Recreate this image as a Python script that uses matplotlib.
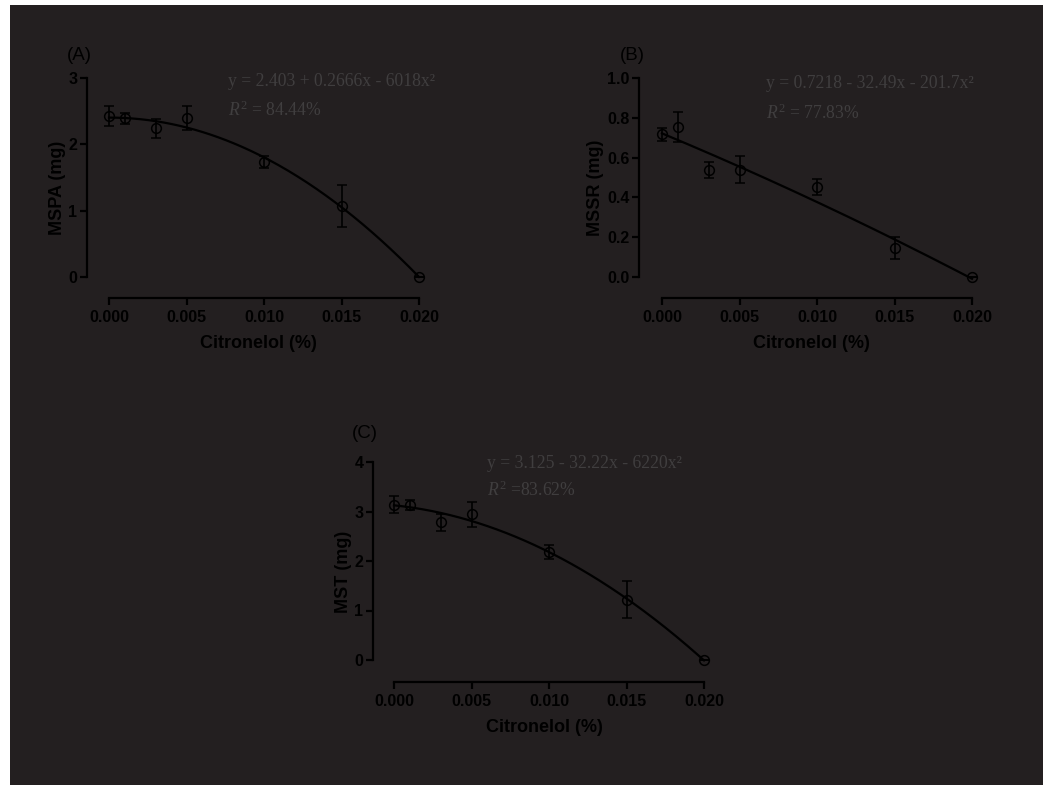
import numpy as np
import matplotlib
matplotlib.use("Agg")
import matplotlib.pyplot as plt
from matplotlib.patches import Rectangle

plt.rcParams["mathtext.fontset"] = "custom"
plt.rcParams["mathtext.rm"] = "Liberation Serif"
plt.rcParams["mathtext.it"] = "Liberation Serif:italic"

# Citronelol concentrations (%)
conc = [0.0, 0.001, 0.003, 0.005, 0.010, 0.015, 0.020]

# (A) MSPA
mspa = [2.43, 2.39, 2.24, 2.40, 1.74, 1.07, 0.0]
mspa_err = [0.15, 0.08, 0.14, 0.18, 0.09, 0.31, 0.0]
mspa_fit = [2.403, 0.2666, -6018]

# (B) MSSR
mssr = [0.717, 0.752, 0.539, 0.538, 0.452, 0.144, 0.0]
mssr_err = [0.033, 0.076, 0.040, 0.068, 0.042, 0.055, 0.0]
mssr_fit = [0.7218, -32.49, -201.7]

# (C) MST
mst = [3.14, 3.14, 2.78, 2.94, 2.19, 1.22, 0.0]
mst_err = [0.18, 0.10, 0.17, 0.25, 0.14, 0.37, 0.0]
mst_fit = [3.125, -32.22, -6220]

xticks = [0.0, 0.005, 0.010, 0.015, 0.020]
xticklabels = ["0.000", "0.005", "0.010", "0.015", "0.020"]

BG = "#231f20"
INK = "#000000"
EQ_INK = "#403e3f"
W, H = 1043, 785

fig = plt.figure(figsize=(W / 100, H / 100), dpi=100, facecolor=BG)
fig.patches.append(Rectangle((0, 0), 10 / W, 1, transform=fig.transFigure,
                             facecolor="white", edgecolor="none", zorder=-1))
fig.patches.append(Rectangle((0, 1 - 5 / H), 1, 5 / H, transform=fig.transFigure,
                             facecolor="white", edgecolor="none", zorder=-1))


def panel(left, top, right, bottom, x0px, x1px, y0px, ytop,
          y, err, fit, yticks, yfmt, ylabel, tag, eq, r2, eqpos):
    ax = fig.add_axes([left / W, 1 - bottom / H, (right - left) / W, (bottom - top) / H])
    ax.set_facecolor("none")
    # data range 0..0.02 sits inside the axes box so the spines look detached
    span = x1px - x0px
    ax.set_xlim(-(x0px - left) / span * 0.02, 0.02 + (right - x1px) / span * 0.02)
    ax.set_ylim(-(bottom - y0px) / (y0px - top) * ytop, ytop)

    xs = np.linspace(0, 0.02, 200)
    ax.plot(xs, fit[0] + fit[1] * xs + fit[2] * xs ** 2, color=INK, lw=1.6)
    ax.errorbar(conc, y, yerr=err, fmt="o", mfc="none", mec=INK, mew=1.1, ms=7,
                ecolor=INK, elinewidth=1.2, capsize=3.5, capthick=1.2)

    for s in ["top", "right"]:
        ax.spines[s].set_visible(False)
    for s in ["left", "bottom"]:
        ax.spines[s].set_color(INK)
        ax.spines[s].set_linewidth(1.6)
    ax.spines["left"].set_bounds(0, ytop)
    ax.spines["bottom"].set_bounds(0, 0.02)

    ax.set_xticks(xticks)
    ax.set_xticklabels(xticklabels)
    ax.set_yticks(yticks)
    ax.set_yticklabels([yfmt.format(v) for v in yticks])
    ax.tick_params(axis="both", colors=INK, width=1.6, length=5, labelsize=11.5)
    ax.tick_params(axis="y", pad=2)
    ax.tick_params(axis="x", pad=4)
    for lab in ax.get_xticklabels() + ax.get_yticklabels():
        lab.set_fontweight("bold")
        lab.set_family("Liberation Sans")

    ax.set_xlabel("Citronelol (%)", fontsize=13, fontweight="bold",
                  family="Liberation Sans", color=INK, labelpad=7)
    ax.set_ylabel(ylabel, fontsize=13, fontweight="bold",
                  family="Liberation Sans", color=INK, labelpad=2)

    fig.text(tag[0] / W, 1 - tag[1] / H, tag[2], fontsize=13.5, color=INK,
             family="Liberation Sans", va="center", ha="left")
    fig.text(eqpos[0] / W, 1 - eqpos[1] / H, eq, fontsize=12.7, color=EQ_INK,
             family="Liberation Serif", va="center", ha="left")
    fig.text(eqpos[0] / W, 1 - eqpos[2] / H, r2, fontsize=12.7, color=EQ_INK,
             family="Liberation Serif", va="center", ha="left")
    return ax


panel(87, 78, 430, 298, 109, 419, 277, 3, mspa, mspa_err, mspa_fit,
      [0, 1, 2, 3], "{:.0f}", "MSPA (mg)", (67, 55, "(A)"),
      "y = 2.403 + 0.2666x - 6018x\u00b2", r"$R^{2}$ = 84.44%",
      (228, 82, 110))

panel(639, 78, 983, 298, 662, 972, 277, 1.0, mssr, mssr_err, mssr_fit,
      [0, 0.2, 0.4, 0.6, 0.8, 1.0], "{:.1f}", "MSSR (mg)", (620, 55, "(B)"),
      "y = 0.7218 - 32.49x - 201.7x\u00b2", r"$R^{2}$ = 77.83%",
      (766, 84, 113))

panel(373, 462, 715, 682, 394, 704, 660, 4, mst, mst_err, mst_fit,
      [0, 1, 2, 3, 4], "{:.0f}", "MST (mg)", (352, 433, "(C)"),
      "y = 3.125 - 32.22x - 6220x\u00b2", r"$R^{2}$ =83.62%",
      (487, 463, 490))

fig.savefig("out.png", dpi=100, facecolor=BG)
